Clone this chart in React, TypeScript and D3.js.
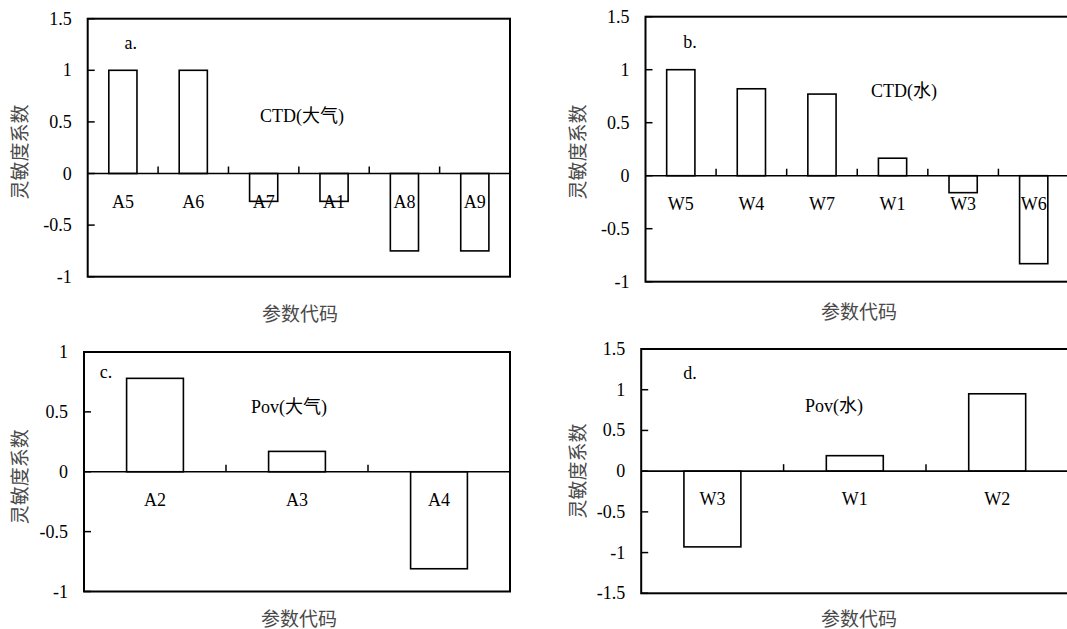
import React from "react";
import * as d3 from "d3";

// ---- data ----
const catsA = ["A5", "A6", "A7", "A1", "A8", "A9"];
const valsA = [1, 1, -0.27, -0.27, -0.75, -0.75];
const catsB = ["W5", "W4", "W7", "W1", "W3", "W6"];
const valsB = [1, 0.82, 0.77, 0.165, -0.16, -0.83];
const catsC = ["A2", "A3", "A4"];
const valsC = [0.78, 0.17, -0.81];
const catsD = ["W3", "W1", "W2"];
const valsD = [-0.93, 0.19, 0.95];
const ticksAB = [-1, -0.5, 0, 0.5, 1, 1.5];
const ticksC = [-1, -0.5, 0, 0.5, 1];
const ticksD = [-1.5, -1, -0.5, 0, 0.5, 1, 1.5];
const tags = ["a.", "b.", "c.", "d."];
const titles = ["CTD(大气)", "CTD(水)", "Pov(大气)", "Pov(水)"];
const yTitle = "灵敏度系数";
const xTitle = "参数代码";

const LATIN = "Liberation Serif, Times New Roman, Noto Sans CJK SC, serif";
const CJK = "Noto Sans CJK SC, sans-serif";

type PanelProps = {
  cats: string[];
  vals: number[];
  ticks: number[];
  tag: string;
  title: string;
  x0: number; x1: number; y0: number; y1: number;
  tagPos: [number, number];
  titlePos: [number, number];
  yTitleX: number; yTitleY: number; xTitleX: number; xTitleY: number;
};

const latinStyle: React.CSSProperties = { fontFamily: LATIN, fontSize: "18px" };
const cjkStyle: React.CSSProperties = { fontFamily: CJK, fontSize: "19px" };

function Panel(p: PanelProps) {
  const x = d3.scaleBand<string>().domain(p.cats).range([p.x0, p.x1]).padding(0);
  const ext = d3.extent(p.ticks) as [number, number];
  const y = d3.scaleLinear().domain(ext).range([p.y1, p.y0]);
  const bw = x.bandwidth();
  const z = y(0);
  const fmt = (v: number) => String(v);
  return (
    <g>
      {p.ticks.map((t) => (
        <g key={"t" + t}>
          <line x1={p.x0} x2={p.x0 + 7} y1={y(t)} y2={y(t)} stroke="#000" strokeWidth={1.5} />
          <text x={p.x0 - 16} y={y(t)} textAnchor="end" dominantBaseline="central"
            style={latinStyle} fill="#000">{fmt(t)}</text>
        </g>
      ))}
      {p.cats.map((c, i) => {
        const v = p.vals[i];
        const top = Math.min(y(v), z);
        const h = Math.abs(y(v) - z);
        return (
          <rect key={"b" + c} x={(x(c) as number) + bw * 0.3} y={top} width={bw * 0.4} height={h}
            fill="#fff" stroke="#000" strokeWidth={1.6} />
        );
      })}
      <line x1={p.x0} x2={p.x1} y1={z} y2={z} stroke="#000" strokeWidth={1.6} />
      {p.cats.slice(1).map((c) => (
        <line key={"ct" + c} x1={x(c) as number} x2={x(c) as number} y1={z} y2={z - 7}
          stroke="#000" strokeWidth={1.5} />
      ))}
      {p.cats.map((c) => (
        <text key={"l" + c} x={(x(c) as number) + bw / 2} y={z + 28} textAnchor="middle"
          dominantBaseline="central" style={latinStyle} fill="#000">{c}</text>
      ))}
      <rect x={p.x0} y={p.y0} width={p.x1 - p.x0} height={p.y1 - p.y0} fill="none"
        stroke="#000" strokeWidth={2} />
      <text x={p.tagPos[0]} y={p.tagPos[1]} textAnchor="middle" dominantBaseline="central"
        style={latinStyle} fill="#000">{p.tag}</text>
      <text x={p.titlePos[0]} y={p.titlePos[1]} textAnchor="middle" dominantBaseline="central"
        style={latinStyle} fill="#000">{p.title}</text>
      <text transform={`translate(${p.yTitleX},${p.yTitleY}) rotate(-90)`} textAnchor="middle"
        dominantBaseline="central" style={cjkStyle} fill="#4a4a4a">{yTitle}</text>
      <text x={p.xTitleX} y={p.xTitleY} textAnchor="middle" dominantBaseline="central"
        style={cjkStyle} fill="#4a4a4a">{xTitle}</text>
    </g>
  );
}

export default function App() {
  return (
    <svg width={1067} height={629} style={{ position: "absolute", left: 0, top: 0, background: "#fff" }}>
      <rect x={0} y={0} width={1067} height={629} fill="#fff" />
      <Panel cats={catsA} vals={valsA} ticks={ticksAB} tag={tags[0]} title={titles[0]}
        x0={87.7} x1={510} y0={18.7} y1={276.7} tagPos={[130.7, 43.3]} titlePos={[302, 116]}
        yTitleX={18} yTitleY={152} xTitleX={300} xTitleY={312} />
      <Panel cats={catsB} vals={valsB} ticks={ticksAB} tag={tags[1]} title={titles[1]}
        x0={645.5} x1={1069} y0={16.7} y1={281.7} tagPos={[690, 41.7]} titlePos={[904, 90.7]}
        yTitleX={576} yTitleY={152} xTitleX={859} xTitleY={310} />
      <Panel cats={catsC} vals={valsC} ticks={ticksC} tag={tags[2]} title={titles[2]}
        x0={84} x1={510} y0={352} y1={591.5} tagPos={[106, 371.7]} titlePos={[289, 406.7]}
        yTitleX={18} yTitleY={476.7} xTitleX={299} xTitleY={617} />
      <Panel cats={catsD} vals={valsD} ticks={ticksD} tag={tags[3]} title={titles[3]}
        x0={641.2} x1={1068.4} y0={349} y1={593.3} tagPos={[690, 373.3]} titlePos={[834, 406]}
        yTitleX={576} yTitleY={471} xTitleX={859} xTitleY={617} />
    </svg>
  );
}
